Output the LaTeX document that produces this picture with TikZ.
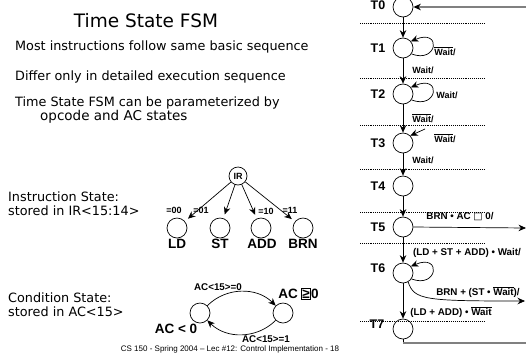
\documentclass[tikz,border=0pt]{standalone}
\usepackage{fontspec}
\setmainfont{Liberation Sans}
\newfontfamily\casual{DejaVu Sans}
\newfontfamily\symf{DejaVu Sans}
\usetikzlibrary{arrows.meta}
\newcommand\ovl[1]{$\overline{\hbox{#1}}$}
\begin{document}
\begin{tikzpicture}[x=1pt,y=-1pt,
  st/.style={circle,draw,minimum size=20pt,inner sep=0pt,line width=0.7pt},
  tl/.style={font=\bfseries\fontsize{12.5}{13}\selectfont,inner sep=0pt},
  sm/.style={font=\bfseries\fontsize{9.8}{10}\selectfont,inner sep=0pt},
  wl/.style={font=\bfseries\fontsize{9}{10}\selectfont,inner sep=0pt},
  big/.style={font=\bfseries\fontsize{13.5}{14}\selectfont,inner sep=0pt},
  dotl/.style={densely dotted,line width=0.9pt},
  arr/.style={-{Stealth[length=7.5pt,width=6.5pt]},line width=0.7pt},
  ret/.style={line width=1.3pt,gray},
  txt/.style={font=\casual\fontsize{12.8}{14}\selectfont,anchor=west,inner sep=0pt,align=left},
]
\useasboundingbox (0,0) rectangle (526,354);
% left texts
\node[font=\casual\fontsize{18.5}{20}\selectfont,inner sep=0pt] (title) at (146,21) {Time State FSM};
\node[txt] (l1) at (15,47) {Most instructions follow same basic sequence};
\node[txt] (l2) at (15,77) {Differ only in detailed execution sequence};
\node[txt] (l3) at (15,103) {Time State FSM can be parameterized by};
\node[txt,font=\casual\fontsize{13.5}{14}\selectfont] (l4) at (40,117) {opcode and AC states};
\node[txt] (l5) at (8,197) {Instruction State:};
\node[txt] (l6) at (8,211) {stored in IR<15:14>};
\node[txt] (l7) at (8,298) {Condition State:};
\node[txt] (l8) at (8,312) {stored in AC<15>};
% IR tree
\node[st,minimum size=18pt] (ir) at (238,176) {};
\node[wl] at (ir) {IR};
\node[st] (ld) at (177,228) {};
\node[st] (stn) at (220,228) {};
\node[st] (add) at (261,228) {};
\node[st] (brn) at (303,228) {};
\node[big] (ldl) at (177,244) {LD};
\node[big] (stl) at (220,244) {ST};
\node[big] (addl) at (262,244) {ADD};
\node[big] (brnl) at (303,244) {BRN};
\draw[arr,shorten >=4pt] (ir) -- (ld);
\draw[arr,shorten >=4pt] (ir) -- (stn);
\draw[arr,shorten >=4pt] (ir) -- (add);
\draw[arr,shorten >=4pt] (ir) -- (brn);
\node[wl] (e1) at (174,210) {=00};
\node[wl] (e2) at (201,210) {=01};
\node[wl] (e3) at (266,211) {=10};
\node[wl] (e4) at (290,210) {=11};
% AC FSM
\node[st] (acl) at (200,313) {};
\node[st] (acr) at (283,313) {};
\draw[arr] (acl) to[bend left=45] (acr);
\draw[arr] (acr) to[bend left=45] (acl);
\node[sm] (a0) at (218,287) {AC<15>=0};
\node[sm] (a1) at (266,339) {AC<15>=1};
\node[big] (acneg) at (176,329) {AC < 0};
\node[big,anchor=east] (acpos) at (298,294) {AC};
\node[draw,line width=0.6pt,inner sep=1pt,font=\bfseries\fontsize{13.5}{14}\selectfont] (gebox) at (306,294) {≥};
\node[big,anchor=west] (zero) at (gebox.east) {0};
% footer
\node[font=\fontsize{8}{9}\selectfont,inner sep=0pt] (foot) at (230,349) {CS 150 - Spring 2004 – Lec \#12: Control Implementation - 18};
% time states
\node[st] (t0) at (403,7) {};
\node[st] (t1) at (403,48) {};
\node[st] (t2) at (403,94) {};
\node[st] (t3) at (403,143) {};
\node[st] (t4) at (403,186) {};
\node[st] (t5) at (403,227) {};
\node[st] (t6) at (403,273) {};
\node[st] (t7) at (403,329) {};
\node[tl] at (378,5) {T0};
\node[tl] at (378,48) {T1};
\node[tl] at (378,94) {T2};
\node[tl] at (378,143) {T3};
\node[tl] at (378,186) {T4};
\node[tl] at (378,227) {T5};
\node[tl] at (378,268) {T6};
\node[tl] at (377,324) {T7};
% dotted separators
\foreach \yy in {23,78,125,169,212,243,321} \draw[dotl] (360,\yy) -- (484,\yy);
% transitions
\draw[arr] (t0) -- (t1);
\draw[arr] (t1) -- (t2);
\draw[arr] (t2) -- (t3);
\draw[arr] (t3) -- (t4);
\draw[arr] (t4) -- (t5);
\draw[arr] (t5) -- (t6);
\draw[arr] (t6) -- (t7);
\draw[arr] (t1.-35) .. controls (438,64) and (442,28) .. (t1.40);
\draw[arr] (t2.-35) .. controls (438,110) and (442,74) .. (t2.40);
\coordinate (t3s) at (425,129);
\draw[arr] (t3s) -- (t3.45);
\draw[arr] (t6.-35) .. controls (438,289) and (442,253) .. (t6.40);
\coordinate (t5e) at (526,228);
\draw[arr] (t5.east) -- (t5e);
\coordinate (t6e) at (525,301);
\draw[arr] (t6.-60) .. controls (414,300) and (425,301) .. (t6e);
\coordinate (r0) at (526,7);
\draw[ret,-{Stealth[length=7.5pt,width=6.5pt,black]}] (r0) -- (t0.east);
\coordinate (b1) at (403,343);
\coordinate (b2) at (526,343);
\draw[line width=0.7pt] (t7.south) -- (b1);
\draw[ret] (b1) -- (b2);
% transition labels
\node[wl] at (445,51) {\ovl{Wait}/};
\node[wl] at (423,70) {Wait/};
\node[wl] at (447,95) {Wait/};
\node[wl] at (423,118) {\ovl{Wait}/};
\node[wl] at (445,138) {\ovl{Wait}/};
\node[wl] at (423,160) {Wait/};
\node[sm] at (460,217) {BRN • AC {\symf\mdseries □} 0/};
\node[sm] at (467,253) {(LD + ST + ADD) • Wait/};
\node[sm] at (478,292) {BRN + (ST • \ovl{Wait})/};
\node[sm] at (451,312) {(LD + ADD) • \ovl{Wait}};
\end{tikzpicture}
\end{document}
